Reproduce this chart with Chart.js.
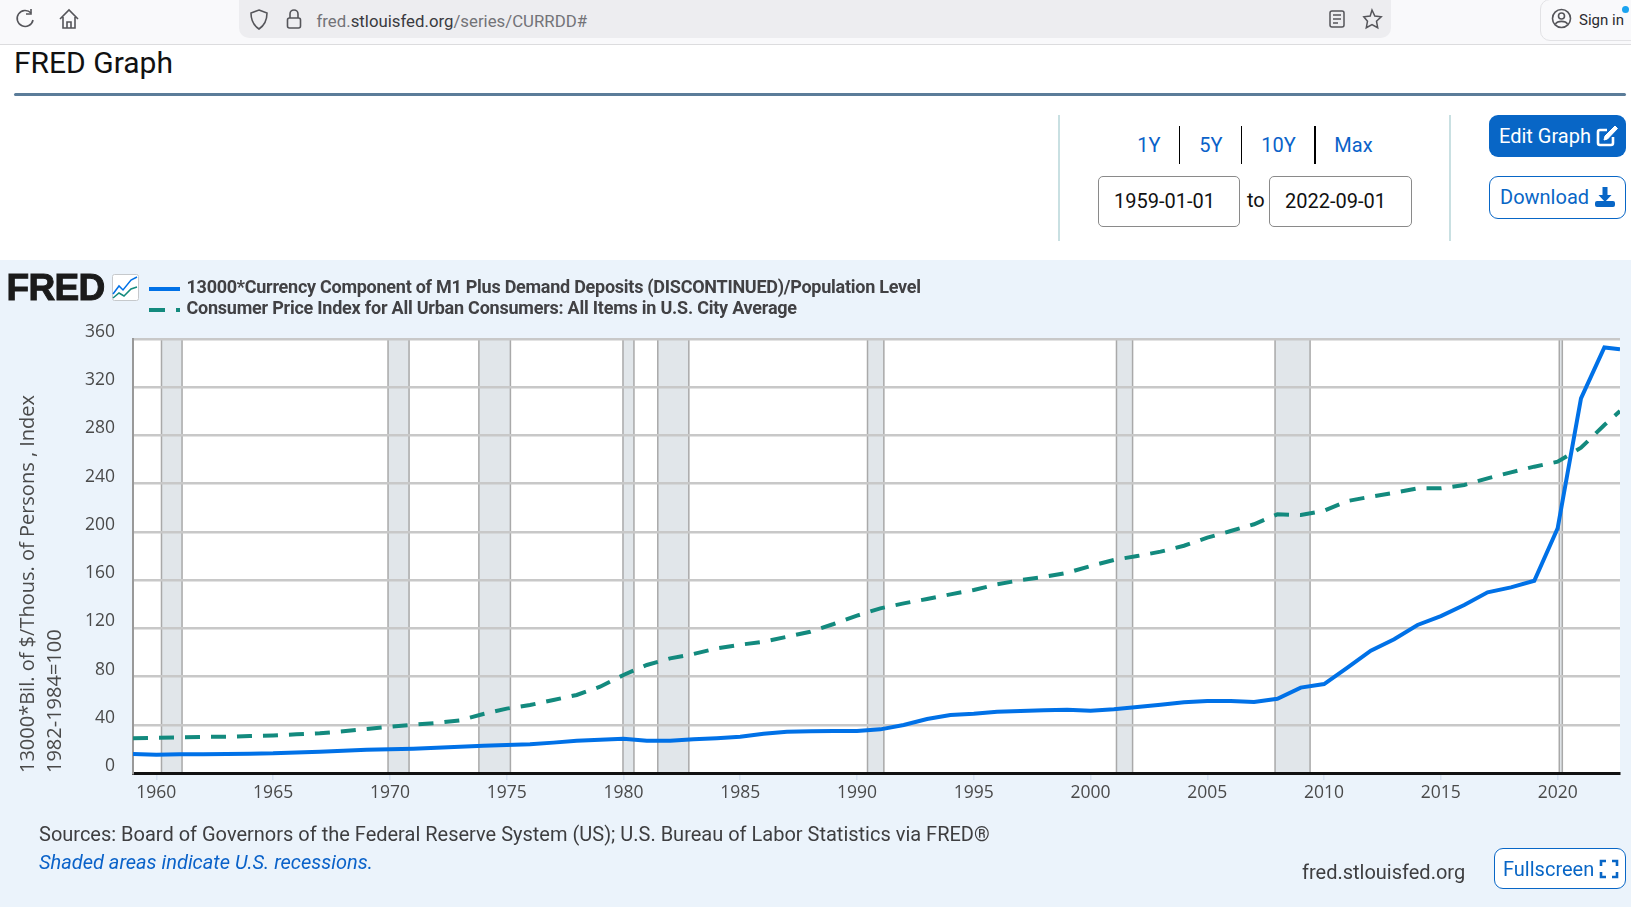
<!DOCTYPE html>
<html><head><meta charset="utf-8">
<script src="https://cdn.jsdelivr.net/npm/chart.js@4"></script>
<style>
html,body{margin:0;padding:0;background:#fff;overflow:hidden}
body{width:1631px;height:907px;position:relative;font-family:Roboto,sans-serif}
.a{position:absolute;white-space:nowrap}
.c{transform:translate(-50%,-50%)}
.m{transform:translateY(-50%)}
.link{color:#0a62c9;font-size:20px}
.sep{position:absolute;background:#000;width:1px;top:126px;height:38px}
.box{position:absolute;top:176px;height:49px;border:1px solid #8a8a8a;border-radius:5px;background:#fff;box-sizing:content-box}
svg{position:absolute;overflow:visible}
</style></head><body>
<!-- browser bar -->
<div class="a" style="left:0;top:0;width:1631px;height:44px;background:#f9f9fb;border-bottom:1px solid #dcdcde"></div>
<div class="a" style="left:239px;top:0;width:1152px;height:38px;background:#ededf0;border-radius:0 0 10px 10px"></div>
<svg style="left:15px;top:8px" width="20" height="22" fill="none" stroke="#55555a" stroke-width="1.6"><path d="M16 5A8 8 0 1 0 18 12"/><path d="M16 1v5h-5"/></svg>
<svg style="left:59px;top:8px" width="20" height="22" fill="none" stroke="#55555a" stroke-width="1.6"><path d="M1 11L10 2l9 9M4 9v11h12V9M8 20v-6h4v6"/></svg>
<svg style="left:249px;top:8px" width="20" height="22" fill="none" stroke="#55555a" stroke-width="1.6"><path d="M10 2l8 3c0 7-2 12-8 16C4 17 2 12 2 5z"/></svg>
<svg style="left:286px;top:8px" width="16" height="22" fill="none" stroke="#55555a" stroke-width="1.6"><rect x="1.5" y="10" width="13" height="10" rx="2"/><path d="M4 10V6a4 4 0 0 1 8 0v4"/></svg>
<div class="a m" style="left:316.500px;top:21px;font-size:16.8px;color:#737378">fred.<span style="color:#3a3a3f">stlouisfed.org</span>/series/CURRDD#</div>
<svg style="left:1329px;top:10px" width="16" height="18" fill="none" stroke="#55555a" stroke-width="1.5"><rect x="1" y="1" width="14" height="16" rx="2"/><path d="M4 5h8M4 9h8M4 13h5"/></svg>
<svg style="left:1361px;top:8px" width="22" height="22" fill="none" stroke="#55555a" stroke-width="1.5"><path d="M11 2l2.8 6 6.4.8-4.7 4.4 1.2 6.5L11 16.500l-5.700 3.200 1.200-6.500L2.800 8.800 9.200 8z"/></svg>
<div class="a" style="left:1540px;top:-1px;width:100px;height:40px;border:1px solid #e2e2e5;border-radius:10px"></div>
<svg style="left:1551px;top:8px" width="21" height="21" fill="none" stroke="#55555a" stroke-width="1.6"><circle cx="10.500" cy="10.500" r="9"/><circle cx="10.500" cy="8" r="3"/><path d="M4.500 16c2-3.500 10-3.500 12 0"/></svg>
<div class="a m" style="left:1579px;top:20px;font-size:15px;color:#2b2b30">Sign in</div>
<div class="a" style="left:1622px;top:6px;width:7px;height:7px;border-radius:50%;background:#1aa3f0"></div>
<!-- page header -->
<div class="a m" style="left:14px;top:62px;font-size:30px;color:#111">FRED Graph</div>
<div class="a" style="left:14px;top:93px;width:1612px;height:3px;background:#5b7c99;border-radius:2px"></div>
<div class="a" style="left:1058px;top:115px;width:2px;height:126px;background:#c9e0e2"></div>
<div class="a" style="left:1449px;top:115px;width:2px;height:126px;background:#c9e0e2"></div>
<div class="a c link" style="left:1149px;top:145px">1Y</div>
<div class="a c link" style="left:1211px;top:145px">5Y</div>
<div class="a c link" style="left:1278.500px;top:145px">10Y</div>
<div class="a c link" style="left:1353.500px;top:145px">Max</div>
<div class="sep" style="left:1179px"></div><div class="sep" style="left:1241px"></div><div class="sep" style="left:1314px;width:1.5px"></div>
<div class="box" style="left:1098px;width:140px"></div>
<div class="box" style="left:1269px;width:141px"></div>
<div class="a m" style="left:1114px;top:201px;font-size:20px;color:#111">1959-01-01</div>
<div class="a m" style="left:1247px;top:200px;font-size:20px;color:#111">to</div>
<div class="a m" style="left:1285px;top:201px;font-size:20px;color:#111">2022-09-01</div>
<div class="a" style="left:1489px;top:115px;width:137px;height:42px;background:#0866c6;border-radius:9px"></div>
<div class="a m" style="left:1499px;top:136px;font-size:20px;color:#fff">Edit Graph</div>
<svg style="left:1596px;top:125px" width="22" height="22" fill="none" stroke="#fff" stroke-width="2.600"><path d="M17 12v6a2 2 0 0 1-2 2H4a2 2 0 0 1-2-2V7a2 2 0 0 1 2-2h7"/><path d="M8 15l1-4L19 1l2.500 2.500L11.500 14z" fill="#fff" stroke-width="1"/></svg>
<div class="a" style="left:1489px;top:176px;width:135px;height:41px;background:#fff;border:1.500px solid #0866c6;border-radius:9px"></div>
<div class="a m" style="left:1500px;top:197px;font-size:20px;color:#0866c6">Download</div>
<svg style="left:1595px;top:187px" width="20" height="21" fill="#0866c6"><path d="M7.500 0h5v8h4L10 15 3.500 8h4z"/><rect x="0" y="14" width="20" height="6" rx="2"/></svg>
<!-- chart panel -->
<div class="a" style="left:0;top:260px;width:1631px;height:647px;background:#ebf3fb"></div>
<canvas id="chart" width="1631" height="647" style="position:absolute;left:0;top:260px"></canvas>
<div class="a m" style="left:6.500px;top:288px;font-family:'Liberation Sans',sans-serif;font-weight:700;font-size:37px;letter-spacing:-.7px;color:#1b1b1b;-webkit-text-stroke:1px #1b1b1b">FRED</div>
<svg style="left:112px;top:274px" width="27" height="27"><rect x=".5" y=".5" width="26" height="26" rx="2" fill="#fff" stroke="#c6c9cc"/><polyline points="1,20 7,12 11,16 19,6 25,3" fill="none" stroke="#0071e7" stroke-width="1.500"/><polyline points="1,24 7,19 12,22 19,15 25,13" fill="none" stroke="#138a7e" stroke-width="1.500"/></svg>
<div class="a" style="left:149px;top:286.500px;width:31px;height:4px;background:#0071e7"></div>
<div class="a" style="left:149px;top:307.500px;width:16px;height:4px;background:#138a7e"></div>
<div class="a" style="left:176px;top:307.500px;width:4px;height:4px;background:#138a7e"></div>
<div class="a m" id="lg1" style="left:186.500px;top:286px;font-size:18px;font-weight:700;color:#414144;letter-spacing:-.26px">13000*Currency Component of M1 Plus Demand Deposits (DISCONTINUED)/Population Level</div>
<div class="a m" id="lg2" style="left:186.500px;top:307px;font-size:18px;font-weight:700;color:#414144;letter-spacing:-.23px">Consumer Price Index for All Urban Consumers: All Items in U.S. City Average</div>
<div class="a m" style="left:39px;top:834px;font-size:20px;color:#3e3e40">Sources: Board of Governors of the Federal Reserve System (US); U.S. Bureau of Labor Statistics via FRED®</div>
<div class="a m" style="left:39px;top:862px;font-size:20px;font-style:italic;color:#0a62c9">Shaded areas indicate U.S. recessions.</div>
<div class="a m" style="left:1302px;top:872px;font-size:20px;color:#3e3e40">fred.stlouisfed.org</div>
<div class="a" style="left:1494px;top:848px;width:130px;height:39px;background:#fff;border:1.500px solid #0866c6;border-radius:9px"></div>
<div class="a m" style="left:1503px;top:869px;font-size:20px;color:#0866c6">Fullscreen</div>
<svg style="left:1600px;top:860px" width="18" height="18" fill="none" stroke="#0866c6" stroke-width="2.600"><path d="M1 6V1h5M12 1h5v5M17 12v5h-5M6 17H1v-5"/></svg>
<script>
const years=[1959,1960,1961,1962,1963,1964,1965,1966,1967,1968,1969,1970,1971,1972,1973,1974,1975,1976,1977,1978,1979,1980,1981,1982,1983,1984,1985,1986,1987,1988,1989,1990,1991,1992,1993,1994,1995,1996,1997,1998,1999,2000,2001,2002,2003,2004,2005,2006,2007,2008,2009,2010,2011,2012,2013,2014,2015,2016,2017,2018,2019,2020,2021,2022,2022.67];
const currencySeries=[15.8,15.2,15.5,15.6,15.8,16,16.3,17.1,17.7,18.5,19.3,19.6,20.2,21,21.8,22.6,23.2,23.8,25.2,26.8,27.6,28.5,26.8,26.8,27.9,28.8,30.1,32.6,34.3,34.6,34.8,34.8,36.2,39.8,44.8,48.1,49.2,50.9,51.4,52,52.5,51.7,52.8,54.7,56.7,58.6,59.7,59.7,58.9,61.6,70.8,73.8,87.4,101.5,110.9,122.8,130.2,139.3,149.9,154,159.5,203,310.8,353,351.4];
const cpiSeries=[28.8,29.3,29.6,29.9,30.1,30.7,31.2,32.1,32.9,34.6,36.5,38.4,40.1,41.5,43.7,48.9,53.4,56.4,60.6,64.7,71.6,81.3,89.6,95.1,98.7,103.4,106.4,108.9,113,117.2,123.6,130.5,136.6,140.7,144.3,148.2,151.8,156.5,160,162.6,166.1,171.7,176.7,180,183.6,188.5,195.2,200.7,206.3,214.6,214,217.5,225.6,229.2,232.5,236.1,236.1,238.9,244.4,249.4,254.1,258.2,269.8,288.6,300.3];
const xTicks=[1960,1965,1970,1975,1980,1985,1990,1995,2000,2005,2010,2015,2020];
const yTicks=[0,40,80,120,160,200,240,280,320,360];
const recessionStart=[1960.22,1969.92,1973.81,1979.98,1981.47,1990.45,2001.11,2007.9,2020.07];
const recessionEnd=[1961.1,1970.82,1975.16,1980.45,1982.8,1991.15,2001.8,2009.4,2020.2];
const seriesNames=['13000*Currency Component of M1 Plus Demand Deposits (DISCONTINUED)/Population Level','Consumer Price Index for All Urban Consumers: All Items in U.S. City Average'];
const yTitle=['13000*Bil. of $/Thous. of Persons , Index','1982-1984=100'];

const bands={id:'bands',beforeDraw(c){
  const {ctx,chartArea:a,scales:{x}}=c;
  ctx.save();ctx.fillStyle='#fff';ctx.fillRect(a.left,a.top,a.right-a.left,a.bottom-a.top);
  recessionStart.forEach((s,i)=>{
    const l=x.getPixelForValue(s),r=x.getPixelForValue(recessionEnd[i]);
    ctx.fillStyle='#e1e6ea';ctx.fillRect(l,a.top,r-l,a.bottom-a.top);
    ctx.strokeStyle='#a9a9a9';ctx.lineWidth=1.5;
    ctx.beginPath();ctx.moveTo(l,a.top);ctx.lineTo(l,a.bottom);ctx.moveTo(r,a.top);ctx.lineTo(r,a.bottom);ctx.stroke();
  });
  ctx.restore();
}};
const tickFont={family:"'Open Sans'",size:17.5};
new Chart(document.getElementById('chart'),{
  type:'line',
  data:{datasets:[
    {label:seriesNames[0],data:years.map((y,i)=>({x:y,y:currencySeries[i]})),borderColor:'#0071e7',borderWidth:4,pointRadius:0,tension:0,order:1,borderJoinStyle:'miter'},
    {label:seriesNames[1],data:years.map((y,i)=>({x:y,y:cpiSeries[i]})),borderColor:'#138a7e',borderWidth:4,borderDash:[15,11],pointRadius:0,tension:0,order:0}
  ]},
  options:{
    responsive:false,animation:false,
    layout:{padding:{top:79,right:11,left:0,bottom:0}},
    plugins:{legend:{display:false},tooltip:{enabled:false}},
    scales:{
      x:{type:'linear',min:1959,max:2022.67,
        afterBuildTicks(s){s.ticks=xTicks.map(v=>({value:v}));},
        afterFit(s){s.height=134;},
        grid:{drawOnChartArea:false,drawTicks:true,tickLength:7,color:'#d6e2f2',lineWidth:1.5},
        border:{display:true,color:'#111',width:3},
        ticks:{autoSkip:false,maxRotation:0,padding:3,color:'#4a4a4a',font:tickFont,callback:v=>String(v)}},
      y:{min:0,max:360,
        afterBuildTicks(s){s.ticks=yTicks.map(v=>({value:v}));},
        afterFit(s){s.width=133;},
        grid:{color:'#c8c8c8',lineWidth:2.4,drawTicks:false},
        border:{display:true,color:'#999',width:2},
        title:{display:true,text:yTitle,align:'start',color:'#4a4a4a',font:{family:"'Open Sans'",size:20,lineHeight:1.35},padding:{top:14.5,bottom:0}},
        ticks:{padding:18,labelOffset:-7,color:'#4a4a4a',font:tickFont}}
    }
  },
  plugins:[bands]
});
</script>
</body></html>
